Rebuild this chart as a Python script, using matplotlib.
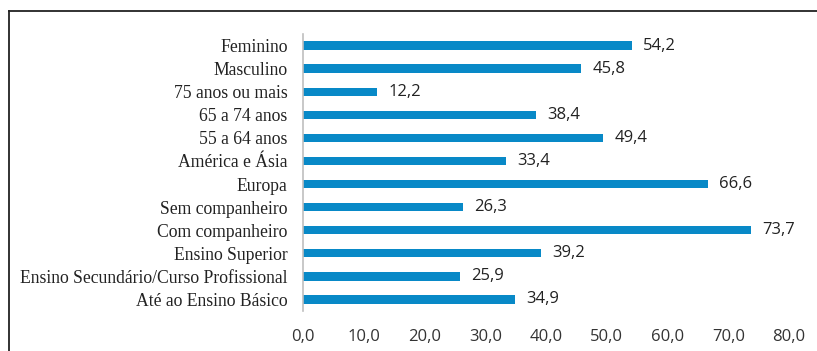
import matplotlib
matplotlib.use("Agg")
import matplotlib.pyplot as plt
from matplotlib.lines import Line2D

categories = ["Feminino", "Masculino", "75 anos ou mais", "65 a 74 anos", "55 a 64 anos",
              "América e Ásia", "Europa", "Sem companheiro", "Com companheiro",
              "Ensino Superior", "Ensino Secundário/Curso Profissional", "Até ao Ensino Básico"]
values = [54.2, 45.8, 12.2, 38.4, 49.4, 33.4, 66.6, 26.3, 73.7, 39.2, 25.9, 34.9]
xticks = [0, 10, 20, 30, 40, 50, 60, 70, 80]

W, H = 817, 351
fig = plt.figure(figsize=(W / 100, H / 100), dpi=100)
ax = fig.add_axes([303 / W, 1 - 311 / H, (789 - 303) / W, (311 - 34) / H])

n = len(categories)
ypos = list(range(n - 1, -1, -1))
bar_color = "#0889C7"
ax.barh(ypos, values, height=0.36, color=bar_color)
ax.set_ylim(-0.5, n - 0.5)
ax.set_xlim(0, 80)
ax.set_yticks(ypos)
ax.set_yticklabels(categories, family="Liberation Serif", fontsize=12.7, color="#222222")
ax.set_xticks(xticks)
ax.set_xticklabels([f"{t:.1f}".replace(".", ",") for t in xticks],
                   family="Open Sans", fontsize=12, color="#333333")
ax.tick_params(axis="y", length=0, pad=11)
ax.tick_params(axis="x", length=0, pad=13)
for s in ["top", "right", "bottom"]:
    ax.spines[s].set_visible(False)
ax.spines["left"].set_color("#BFBFBF")
ax.spines["left"].set_linewidth(1.2)

for y, v in zip(ypos, values):
    ax.annotate(f"{v:.1f}".replace(".", ","), xy=(v, y), xytext=(8, 0),
                textcoords="offset points", va="center", ha="left",
                family="Open Sans", fontsize=12, color="#222222")

x0 = 8.5 / W
y0 = 1 - 10.5 / H
fig.add_artist(Line2D([x0, x0], [0, y0], transform=fig.transFigure, color="#222222", lw=1.3))
fig.add_artist(Line2D([x0, 1], [y0, y0], transform=fig.transFigure, color="#222222", lw=1.3))

fig.savefig("out.png", dpi=100)
